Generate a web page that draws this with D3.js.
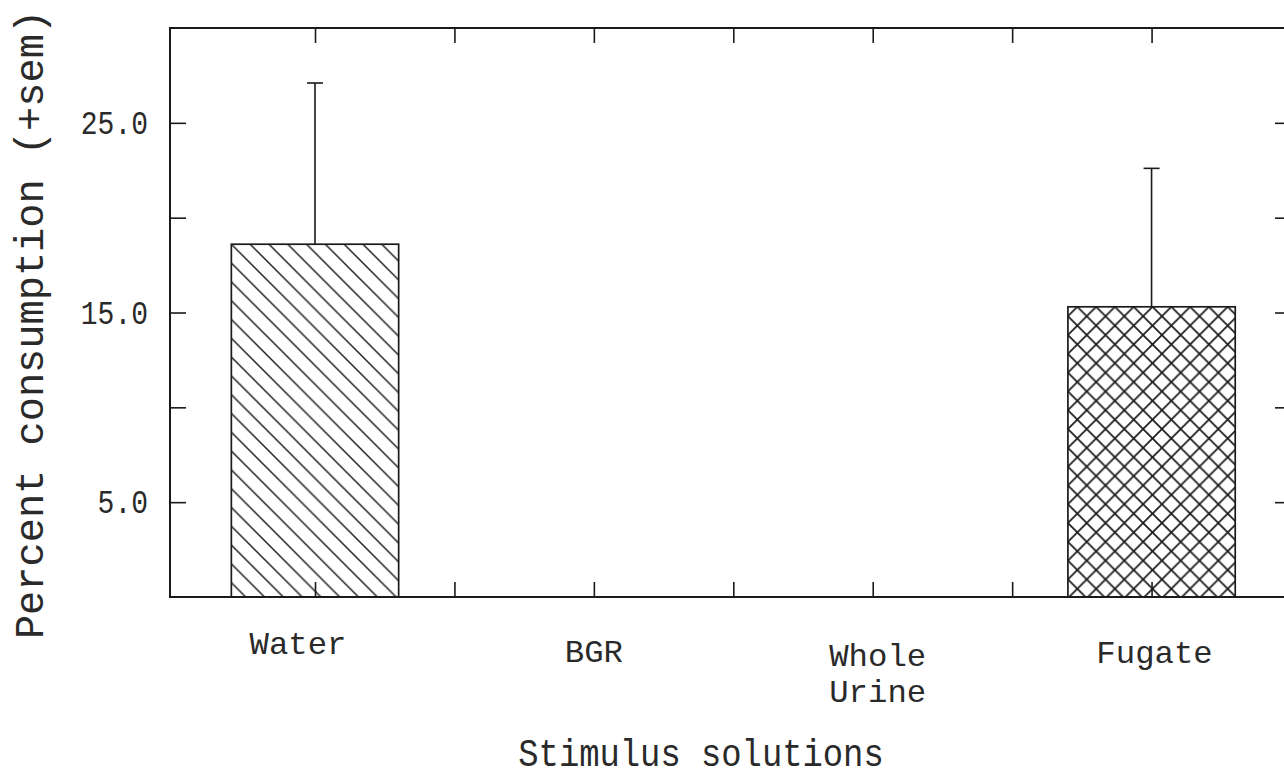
<!DOCTYPE html>
<html>
<head>
<meta charset="utf-8">
<script src="https://cdn.jsdelivr.net/npm/d3@7/dist/d3.min.js"></script>
<style>
  html, body { margin: 0; padding: 0; background: #fff; }
  svg { display: block; }
  text { font-family: "Liberation Mono", "Courier New", monospace; fill: #2a2a2a; }
</style>
</head>
<body>
<svg id="chart" width="1284" height="777"></svg>
<script>
// ---- data ----
const categories = ["Water", "BGR", "Whole Urine", "Fugate"];
const means = [18.6, 0, 0, 15.3];
const sems = [8.5, 0, 0, 7.3];
const patterns = ["hatch", "none", "none", "cross"];
const yTickValues = [5, 10, 15, 20, 25];
const yTickLabels = ["5.0", "", "15.0", "", "25.0"];
const xTickValues = [1, 1.5, 2, 2.5, 3, 3.5, 4];
const yTitle = "Percent consumption (+sem)";
const xTitle = "Stimulus solutions";

// ---- layout ----
const frame = { left: 170, right: 1291, top: 28, bottom: 597 };
const svg = d3.select("#chart");

const x = d3.scaleLinear().domain([0.48, 4.5]).range([frame.left, frame.right]);
const y = d3.scaleLinear().domain([0, 30]).range([frame.bottom, frame.top]);
const barW = x(1.6) - x(1.0);

// patterns
const defs = svg.append("defs");
const s = 18.8;
function makePattern(id, ox, oy, cross) {
  const p = defs.append("pattern").attr("id", id)
    .attr("patternUnits", "userSpaceOnUse")
    .attr("x", ox).attr("y", oy).attr("width", s).attr("height", s);
  const g = p.append("g").attr("stroke", "#1a1a1a").attr("stroke-width", cross ? 1.7 : 1.4).attr("fill", "none");
  g.append("path").attr("d", `M${-s/2},${-s/2} L${s*1.5},${s*1.5} M${-s/2},${s/2} L${s/2},${s*1.5} M${s/2},${-s/2} L${s*1.5},${s/2}`);
  if (cross) {
    g.append("path").attr("d", `M${-s/2},${s*1.5} L${s*1.5},${-s/2} M${-s/2},${s/2} L${s/2},${-s/2} M${s/2},${s*1.5} L${s*1.5},${s/2}`);
  }
}

const bars = categories.map((c, i) => ({ c, i: i + 1, m: means[i], e: sems[i], p: patterns[i] }));
bars.forEach(d => {
  if (d.p !== "none") makePattern("pat" + d.i, x(d.i) - barW / 2, y(d.m) + (d.p === "cross" ? s / 2 : 0), d.p === "cross");
});

// bars
svg.append("g").selectAll("rect").data(bars.filter(d => d.m > 0)).join("rect")
  .attr("x", d => x(d.i) - barW / 2)
  .attr("y", d => y(d.m))
  .attr("width", barW)
  .attr("height", d => y(0) - y(d.m))
  .attr("fill", d => `url(#pat${d.i})`)
  .attr("stroke", "#1a1a1a").attr("stroke-width", 1.7);

// error bars
const gErr = svg.append("g").attr("stroke", "#1a1a1a").attr("stroke-width", 1.6);
bars.filter(d => d.m > 0).forEach(d => {
  gErr.append("line").attr("x1", x(d.i)).attr("x2", x(d.i)).attr("y1", y(d.m)).attr("y2", y(d.m + d.e));
  gErr.append("line").attr("x1", x(d.i) - 8).attr("x2", x(d.i) + 8).attr("y1", y(d.m + d.e)).attr("y2", y(d.m + d.e));
});

// frame
svg.append("rect").attr("x", frame.left).attr("y", frame.top)
  .attr("width", frame.right - frame.left).attr("height", frame.bottom - frame.top)
  .attr("fill", "none").attr("stroke", "#1a1a1a").attr("stroke-width", 2);

// axes: inward ticks on all four sides
const tickLen = 16;
const gyl = svg.append("g").attr("transform", `translate(${frame.left},0)`)
  .call(d3.axisRight(y).tickValues(yTickValues).tickSize(tickLen).tickFormat(""));
const gyr = svg.append("g").attr("transform", `translate(${frame.right},0)`)
  .call(d3.axisLeft(y).tickValues(yTickValues).tickSize(tickLen).tickFormat(""));
const gxb = svg.append("g").attr("transform", `translate(0,${frame.bottom})`)
  .call(d3.axisTop(x).tickValues(xTickValues).tickSize(15).tickFormat(""));
const gxt = svg.append("g").attr("transform", `translate(0,${frame.top})`)
  .call(d3.axisBottom(x).tickValues(xTickValues).tickSize(15).tickFormat(""));
[gyl, gyr, gxb, gxt].forEach(g => {
  g.select(".domain").remove();
  g.selectAll(".tick line").attr("stroke", "#1a1a1a").attr("stroke-width", 1.6);
});

// y tick labels
svg.append("g").selectAll("text").data(yTickValues.map((v, i) => ({ v, t: yTickLabels[i] })).filter(d => d.t))
  .join("text")
  .attr("x", 148).attr("y", d => y(d.v) + 11)
  .attr("text-anchor", "end")
  .attr("font-size", 33)
  .attr("textLength", d => d.t.length * 16.8)
  .attr("lengthAdjust", "spacingAndGlyphs")
  .text(d => d.t);

// x category labels
const labelLayout = [
  { dx: -17, base: [654] },
  { dx: 0, base: [662] },
  { dx: 5, base: [666, 702] },
  { dx: 3, base: [663] }
];
categories.forEach((c, i) => {
  c.split(" ").forEach((w, j) => {
    svg.append("text")
      .attr("x", x(i + 1) + labelLayout[i].dx)
      .attr("y", labelLayout[i].base[j])
      .attr("text-anchor", "middle")
      .attr("font-size", 32)
      .attr("textLength", w.length * 19.4)
      .attr("lengthAdjust", "spacingAndGlyphs")
      .text(w);
  });
});

// axis titles
svg.append("text")
  .attr("x", 701).attr("y", 766)
  .attr("text-anchor", "middle")
  .attr("font-size", 38)
  .attr("textLength", xTitle.length * 20.3)
  .attr("lengthAdjust", "spacingAndGlyphs")
  .text(xTitle);

svg.append("text")
  .attr("transform", `translate(43,${(12 + 637) / 2}) rotate(-90)`)
  .attr("text-anchor", "middle")
  .attr("font-size", 41)
  .attr("textLength", yTitle.length * 24.2)
  .attr("lengthAdjust", "spacingAndGlyphs")
  .text(yTitle);
</script>
</body>
</html>
